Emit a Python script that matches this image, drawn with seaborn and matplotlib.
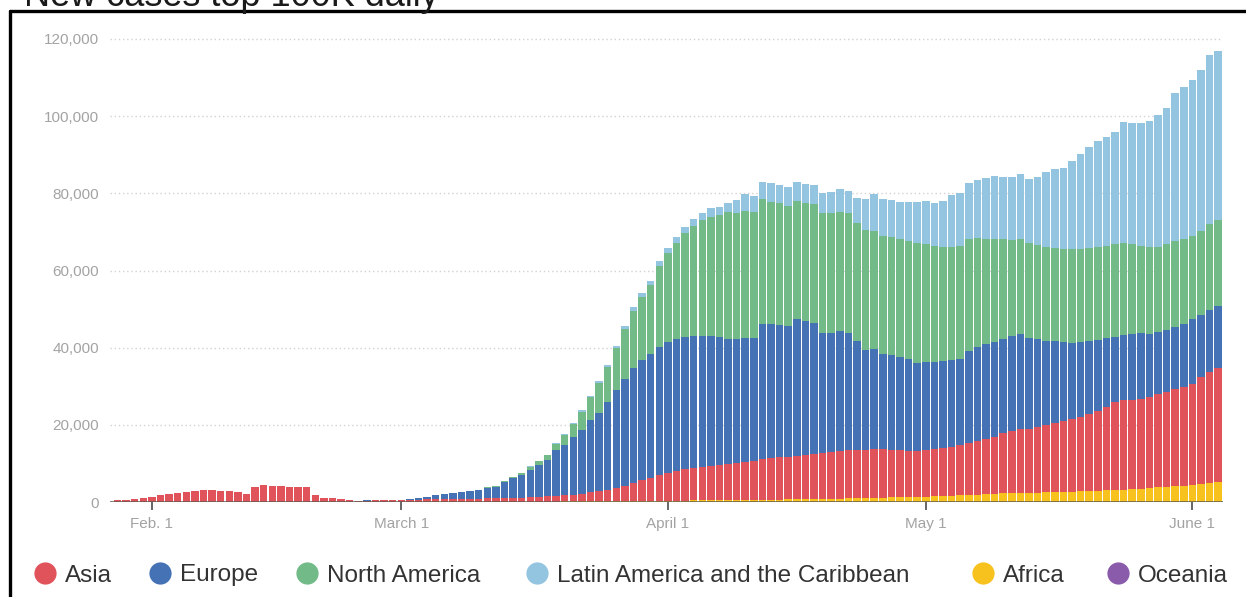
import numpy as np
import pandas as pd
import matplotlib
matplotlib.use("Agg")
import matplotlib.pyplot as plt
import seaborn as sns
from matplotlib.lines import Line2D

# ---------------- data (7-day new cases by region, one value per day) ----------------
start_date = "2020-01-28"

asia = [
    500, 550, 850, 1050, 1300, 1800, 2100, 2350, 2700, 2850,
    3100, 3200, 2950, 2950, 2600, 2000, 3900, 4300, 4250, 4050,
    4000, 4000, 4000, 1800, 950, 950, 700, 490, 330, 360,
    440, 510, 470, 450, 600, 620, 650, 700, 720, 750,
    780, 800, 850, 900, 950, 1000, 1050, 1100, 1200, 1300,
    1400, 1550, 1700, 1790, 1950, 2290, 2530, 2940, 3350, 3940,
    4610, 5450, 6030, 6710, 7290, 7710, 8120, 8360, 8770, 9010,
    9160, 9310, 9630, 9870, 10100, 10500, 10730, 10960, 11100, 11330,
    11470, 11700, 11920, 12230, 12440, 12580, 12550, 12560, 12550, 12500,
    12280, 12230, 12010, 11960, 12080, 12200, 12410, 12740, 13070, 13580,
    13910, 14240, 14830, 15600, 16070, 16540, 16660, 17080, 17410, 17790,
    18260, 18730, 19370, 20010, 20770, 21710, 22910, 23240, 23140, 23160,
    23700, 24240, 24700, 25150, 25690, 26190, 27890, 28850, 29630,
]

europe = [
    0, 0, 0, 0, 0, 0, 0, 0, 0, 0,
    0, 0, 0, 0, 0, 0, 0, 0, 0, 0,
    0, 0, 0, 0, 0, 0, 0, 10, 20, 40,
    60, 90, 130, 150, 250, 480, 710, 1000, 1320, 1540,
    1680, 1960, 2150, 2730, 2970, 4190, 5070, 5830, 7070, 8290,
    9490, 11750, 12900, 14860, 16590, 18660, 20300, 22720, 25320, 27650,
    29810, 31110, 32060, 33260, 33960, 34210, 34380, 34300, 33950, 33690,
    33260, 32580, 32060, 32230, 31790, 35080, 34730, 34300, 33870, 35420,
    34820, 33870, 31190, 30840, 31110, 30240, 28320, 25840, 26060, 24710,
    24620, 24190, 23670, 22630, 22890, 22720, 22640, 22470, 22210, 23850,
    24450, 24710, 24630, 24450, 24710, 24710, 23410, 22630, 21860, 21340,
    20560, 19870, 19350, 18830, 18320, 17710, 16840, 16850, 17110, 17110,
    16250, 16070, 15980, 16070, 16250, 16760, 15890, 16070, 16070,
]

north_america = [
    0, 0, 0, 0, 0, 0, 0, 0, 0, 0,
    0, 0, 0, 0, 0, 0, 0, 0, 0, 0,
    0, 0, 0, 0, 0, 0, 0, 0, 0, 0,
    0, 0, 0, 5, 10, 15, 20, 25, 30, 40,
    50, 80, 100, 150, 200, 300, 400, 600, 800, 940,
    1140, 1700, 2650, 3500, 4660, 6000, 7710, 9130, 10920, 12900,
    14870, 16330, 17820, 20790, 22960, 24800, 26820, 28390, 29890, 30860,
    31400, 32800, 32840, 32910, 32750, 32310, 31800, 31530, 31190, 30670,
    30590, 30930, 31110, 30930, 30760, 31100, 30580, 31100, 30670, 30590,
    30500, 30410, 30670, 31110, 30500, 29990, 29630, 29370, 29380, 28850,
    28260, 27310, 26610, 25830, 24880, 24530, 24800, 24540, 24360, 24110,
    24110, 24280, 24190, 24200, 24020, 23940, 24020, 23930, 23320, 22640,
    22460, 22120, 22290, 22290, 21940, 21600, 21950, 22290, 22290,
]

latin_america = [
    0, 0, 0, 0, 0, 0, 0, 0, 0, 0,
    0, 0, 0, 0, 0, 0, 0, 0, 0, 0,
    0, 0, 0, 0, 0, 0, 0, 0, 0, 0,
    0, 0, 0, 0, 0, 0, 0, 0, 0, 0,
    5, 10, 15, 20, 30, 40, 50, 70, 90, 100,
    150, 200, 250, 300, 350, 400, 500, 550, 650, 750,
    850, 950, 1100, 1250, 1400, 1550, 1700, 1850, 2000, 2150,
    2300, 2450, 3280, 4240, 4130, 4490, 4920, 4840, 4920, 4930,
    4830, 5010, 5180, 5530, 5960, 5700, 6310, 8120, 9500, 9670,
    9680, 9770, 10110, 10710, 11060, 11050, 11930, 13310, 13820, 14690,
    14940, 15720, 16330, 16250, 16420, 16940, 16420, 17630, 19360, 20390,
    20990, 22890, 24540, 26260, 27650, 28330, 29030, 31280, 31450, 31790,
    32660, 34220, 35170, 38540, 39570, 40430, 41640, 43800, 43900,
]

africa = [
    0, 0, 0, 0, 0, 0, 0, 0, 0, 0,
    0, 0, 0, 0, 0, 0, 0, 0, 0, 0,
    0, 0, 0, 0, 0, 0, 0, 0, 0, 0,
    0, 0, 0, 0, 0, 0, 0, 0, 0, 5,
    5, 10, 10, 15, 20, 25, 30, 40, 50, 60,
    70, 85, 100, 110, 120, 130, 150, 170, 190, 210,
    230, 250, 270, 290, 310, 330, 350, 370, 390, 410,
    430, 450, 470, 500, 530, 560, 590, 620, 650, 680,
    710, 740, 780, 820, 860, 900, 950, 1000, 1050, 1150,
    1200, 1250, 1300, 1350, 1400, 1450, 1500, 1600, 1700, 1800,
    1900, 2000, 2100, 2200, 2250, 2300, 2350, 2450, 2550, 2600,
    2650, 2700, 2750, 2800, 2900, 3000, 3100, 3200, 3300, 3450,
    3600, 3750, 3900, 4050, 4200, 4400, 4600, 4850, 5100,
]

oceania = [
    0, 0, 0, 0, 0, 0, 0, 0, 0, 0,
    0, 0, 0, 0, 0, 0, 0, 0, 0, 0,
    0, 0, 0, 0, 0, 0, 0, 0, 0, 0,
    0, 0, 0, 0, 0, 0, 0, 0, 0, 0,
    0, 0, 0, 0, 0, 0, 0, 0, 0, 0,
    10, 20, 30, 40, 50, 60, 60, 60, 60, 60,
    50, 50, 40, 40, 30, 30, 20, 20, 20, 10,
    10, 10, 10, 10, 10, 10, 10, 10, 10, 10,
    10, 10, 10, 10, 10, 10, 10, 10, 10, 10,
    10, 10, 10, 10, 10, 10, 10, 10, 10, 10,
    10, 10, 10, 10, 10, 10, 10, 10, 10, 10,
    10, 10, 10, 10, 10, 10, 10, 10, 10, 10,
    10, 10, 10, 10, 10, 10, 10, 10, 10,
]

legend_names = ["Asia", "Europe", "North America",
                "Latin America and the Caribbean", "Africa", "Oceania"]
colors = {
    "Asia": "#e0535b",
    "Europe": "#4571b5",
    "North America": "#72bb88",
    "Latin America and the Caribbean": "#93c5e1",
    "Africa": "#f7c21e",
    "Oceania": "#8a5aab",
}
series = {
    "Asia": asia,
    "Europe": europe,
    "North America": north_america,
    "Latin America and the Caribbean": latin_america,
    "Africa": africa,
    "Oceania": oceania,
}
# stacking order, bottom to top
stack_order = ["Oceania", "Africa", "Asia", "Europe", "North America",
               "Latin America and the Caribbean"]

tick_dates = ["2020-02-01", "2020-03-01", "2020-04-01", "2020-05-01", "2020-06-01"]
tick_labels = ["Feb. 1", "March 1", "April 1", "May 1", "June 1"]
y_ticks = [0, 20000, 40000, 60000, 80000, 100000, 120000]

title_text = "New cases top 100K daily"

# ---------------- table ----------------
n = len(asia)
for k, v in series.items():
    assert len(v) == n, (k, len(v))
dates = pd.date_range(start_date, periods=n, freq="D")
df = pd.DataFrame(series, index=dates)
xpos = np.arange(n)

# ---------------- figure ----------------
sns.set_theme(style="white")
plt.rcParams["font.family"] = ["Liberation Sans", "DejaVu Sans"]

W, H = 1246, 597
fig = plt.figure(figsize=(W / 100, H / 100), dpi=100)
fig.patch.set_facecolor("white")

px_per_unit = 463.0 / 120000.0
ylim_top = 120600
ax_bottom_px = 502
ax_h_px = ylim_top * px_per_unit
ax = fig.add_axes([110 / W, (H - ax_bottom_px) / H, 1113 / W, ax_h_px / H])
ax.set_facecolor("white")

bottom = np.zeros(n)
for name in stack_order:
    vals = df[name].to_numpy(dtype=float)
    ax.bar(xpos, vals, bottom=bottom, width=0.88, color=colors[name],
           linewidth=0, zorder=2)
    bottom = bottom + vals

ax.set_ylim(0, ylim_top)
ax.set_xlim(-0.5 - 3.2 / 8.6, n - 0.5 + 0.05)

ax.set_yticks(y_ticks)
ax.set_yticklabels([f"{v:,}" for v in y_ticks])
ax.yaxis.grid(True, linestyle=(0, (1, 2)), color="#d2d2d2", linewidth=1.0, zorder=0)
ax.xaxis.grid(False)
ax.set_axisbelow(True)

tpos = [(pd.Timestamp(d) - dates[0]).days for d in tick_dates]
ax.set_xticks(tpos)
ax.set_xticklabels(tick_labels)

for s in ax.spines.values():
    s.set_visible(False)
ax.axhline(0, color="#5e5a4e", linewidth=1.8, zorder=3)

ax.tick_params(axis="x", bottom=True, length=6, width=1.4, color="#666666",
               pad=5, labelsize=11, labelcolor="#a3a3a3")
ax.tick_params(axis="y", left=False, length=0, pad=8, labelsize=11,
               labelcolor="#a3a3a3")

# frame lines (top and left)
fig.add_artist(Line2D([10 / W, 1.0], [1 - 11 / H, 1 - 11 / H],
                      transform=fig.transFigure, color="black", linewidth=2.4))
fig.add_artist(Line2D([10 / W, 10 / W], [0.0, 1 - 11 / H],
                      transform=fig.transFigure, color="black", linewidth=2.4))

# title, cut at the top edge as in the reference
fig.text(24 / W, 1 - 6 / H, title_text, fontsize=26, color="#1a1a1a",
         ha="left", va="baseline")

# legend
legend_x_px = [45, 160, 307, 537, 983, 1118]
legend_y = (H - 573) / H
for name, xp in zip(legend_names, legend_x_px):
    fig.add_artist(Line2D([xp / W], [legend_y], transform=fig.transFigure,
                          marker="o", markersize=16, linestyle="none",
                          markerfacecolor=colors[name], markeredgewidth=0))
    fig.text((xp + 20) / W, legend_y, name, fontsize=17.5, color="#333333",
             ha="left", va="center_baseline")

fig.savefig("out.png", dpi=100, facecolor="white")
